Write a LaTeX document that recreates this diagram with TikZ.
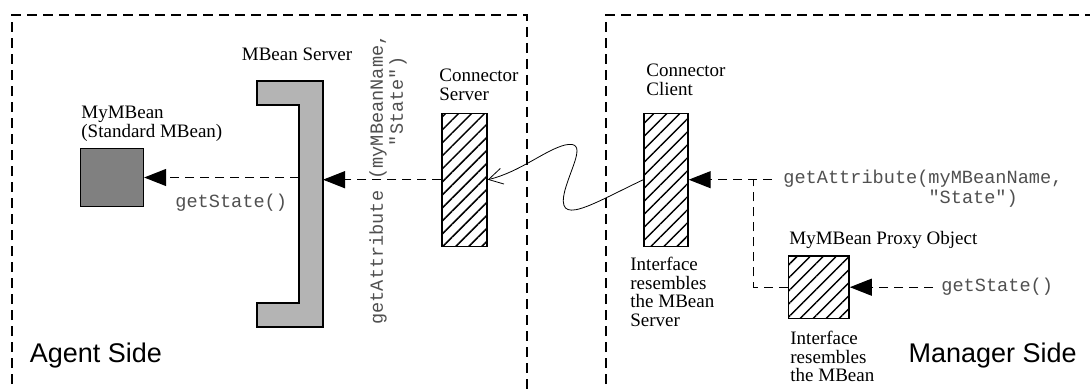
\documentclass[tikz,border=0pt]{standalone}
\usepackage{fontspec}
\setmainfont{Liberation Serif}
\setsansfont{Liberation Sans}
\setmonofont{Liberation Mono}
\usepackage{tikz}
\usetikzlibrary{arrows.meta,patterns.meta,positioning}
\usepackage{xcolor}
\definecolor{jmxdark}{RGB}{128,128,128}
\definecolor{jmxlight}{RGB}{180,180,180}
\definecolor{jmxcode}{RGB}{80,80,80}
\tikzstyle{sideline} = [dash pattern=on 5pt off 3pt, line width=0.6pt]
\tikzstyle{callline} = [dash pattern=on 4.5pt off 3pt, line width=0.6pt]
\tikzstyle{call} = [callline, -{Triangle[length=11pt,width=8.5pt]}]
\tikzstyle{hatched} = [draw, line width=0.7pt, inner sep=0pt, pattern color=black, pattern={Lines[angle=45,distance=4.6pt,line width=0.75pt]}]
\tikzstyle{nametext} = [font=\fontsize{9.5}{9.3}\selectfont, align=left, inner sep=0pt]
\tikzstyle{codetext} = [font=\ttfamily\fontsize{9.3}{10}\selectfont, text=jmxcode, align=left, inner sep=0pt]
\tikzstyle{sidename} = [font=\sffamily\fontsize{13.5}{14}\selectfont, inner sep=0pt]

\begin{document}
\begin{tikzpicture}[x=0.5pt, y=-0.5pt]
\useasboundingbox (0,0) rectangle (1090,390);
\clip (0,0) rectangle (1090,390);

% Sides
\draw[sideline] (12,400) -- (12,15) -- (527,15) -- (527,400);
\draw[sideline] (606,400) -- (606,15) -- (1100,15);
\node[sidename, anchor=north west] (agentlbl) at (29.5,343) {Agent Side};
\node[sidename, anchor=north east] (managerlbl) at (1077,343) {Manager Side};

% MBean and MBean server
\node[draw, fill=jmxdark, line width=0.65pt, minimum width=31.5pt, minimum height=29pt, inner sep=0pt] (mybean) at (112,177.5) {};
\node[nametext, anchor=north west] (mybeanlbl) at (81,106) {MyMBean\\(Standard MBean)};
\draw[fill=jmxlight, line width=0.65pt] (257,81) -- (323,81) -- (323,327) -- (257,327) -- (257,303) -- (299,303) -- (299,105) -- (257,105) -- cycle;
\coordinate (mbsin) at (299,177.5);
\coordinate (mbsout) at (323,179.7);
\node[nametext, anchor=north] (mbslbl) at (297,48) {MBean Server};

% Connectors
\node[hatched, minimum width=22.5pt, minimum height=66.5pt] (cserver) at (464.5,179.7) {};
\node[nametext, anchor=north west] (cserverlbl) at (439,69) {Connector\\Server};
\node[hatched, minimum width=22pt, minimum height=66.5pt] (cclient) at (666,179.7) {};
\node[nametext, anchor=north west] (cclientlbl) at (646,64) {Connector\\Client};
\node[nametext, anchor=north west] (cclientnote) at (630,257) {Interface\\resembles\\the MBean\\Server};

% Proxy
\node[hatched, minimum width=30.4pt, minimum height=31.2pt] (proxy) at (818.7,287.2) {};
\node[nametext, anchor=north west] (proxylbl) at (789,231) {MyMBean Proxy Object};
\node[nametext, anchor=north west] (proxynote) at (790,331) {Interface\\resembles\\the MBean};

% Calls
\draw[call] (mbsin) -- (mybean.east);
\node[codetext, anchor=west] (getst1) at (175,203) {getState()};
\draw[call] (cserver.west) -- (mbsout);
\node[codetext, rotate=90, anchor=north west] (getattr1) at (369,325) {getAttribute (myMBeanName,\\\phantom{getAttribute (my}"State")};
\draw[line width=0.4pt, -{Straight Barb[length=7pt,width=8pt]}] (cclient.west) .. controls (590,205) and (555,228) .. (565,190) .. controls (572,165) and (588,140) .. (565,145) .. controls (545,150) and (520,172) .. (cserver.east);
\coordinate (attrcall) at (772,179.7);
\coordinate (branch) at (753.5,179.7);
\draw[call] (attrcall) -- (cclient.east);
\node[codetext, anchor=north west] (getattr2) at (783,170) {getAttribute(myMBeanName,\\\phantom{getAttribute(}"State")};
\draw[callline] (proxy.west) -| (branch);
\coordinate (stcall) at (933,287.2);
\draw[call] (stcall) -- (proxy.east);
\node[codetext, anchor=west] (getst2) at (941,287) {getState()};
\end{tikzpicture}
\end{document}
